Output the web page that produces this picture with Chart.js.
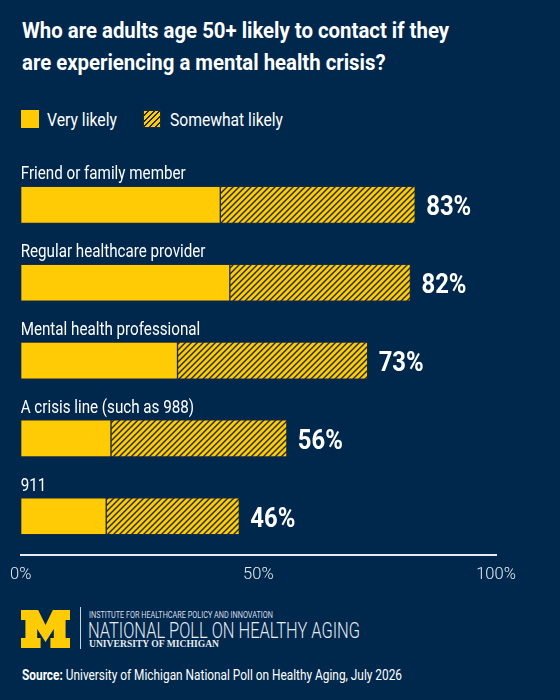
<!DOCTYPE html>
<html>
<head>
<meta charset="utf-8">
<script src="https://cdn.jsdelivr.net/npm/chart.js@4"></script>
<style>
  html, body { margin: 0; padding: 0; }
  body {
    width: 560px; height: 700px; background: #00274C; position: relative; overflow: hidden;
    font-family: Roboto, "Noto Sans", sans-serif; color: #fff;
  }
  .t { position: absolute; white-space: nowrap; transform-origin: left center; }
  .title { left: 22px; font-weight: bold; font-size: 22.5px; line-height: 22.5px; }
  .leg { font-size: 19px; line-height: 19px; top: 110px; }
  .sw { position: absolute; width: 18px; height: 18px; top: 110px; box-sizing: border-box; }
  .solid { background: #FFCB05; }
  .hatch {
    background: repeating-linear-gradient(135deg, #FFCB05 0 2.6px, #1c2b3c 2.6px 4px);
    border: 1px solid #1c2b3c;
  }
  #wrap { position: absolute; left: 0; top: 150px; width: 560px; height: 451px; }
  #logo { position: absolute; left: 21px; top: 610px; }
  #divider { position: absolute; left: 80px; top: 607px; width: 1px; height: 42px; background: #cfd6df; }
  #l1 { left: 89px; top: 610.5px; font-size: 8.5px; line-height: 8.5px; color: #d8dee6; }
  #l2 { left: 88px; top: 619px; font-size: 22.5px; line-height: 22.5px; color: #e6ebf1; font-weight: 300; }
  #l3 { left: 89px; top: 638.5px; font-family: "Liberation Serif", "DejaVu Serif", serif; font-weight: bold; font-size: 10.6px; line-height: 10.6px; color: #e6ebf1; }
  #source { left: 22px; top: 667.5px; font-size: 14px; line-height: 14px; color: #fff; }
</style>
</head>
<body>
<div class="t title" id="t1" style="top:19px" data-w="427">Who are adults age 50+ likely to contact if they</div>
<div class="t title" id="t2" style="top:50.5px" data-k="t1">are experiencing a mental health crisis?</div>
<span class="sw solid" style="left:21px"></span>
<div class="t leg" style="left:46.5px" data-w="70">Very likely</div>
<span class="sw hatch" style="left:143px"></span>
<div class="t leg" style="left:170px" data-w="113">Somewhat likely</div>
<div id="wrap"><canvas id="myChart"></canvas></div>
<svg id="logo" width="49" height="38" viewBox="0 0 100 76" preserveAspectRatio="none">
  <polygon fill="#FFCB05" points="0,0 35,0 50,30 65,0 100,0 100,20 91,20 91,56 100,56 100,76 60,76 60,56 67,56 67,38 50,64 33,38 33,56 40,56 40,76 0,76 0,56 9,56 9,20 0,20"/>
</svg>
<div id="divider"></div>
<div class="t" id="l1" data-w="184">INSTITUTE FOR HEALTHCARE POLICY AND INNOVATION</div>
<div class="t" id="l2" data-w="272">NATIONAL POLL ON HEALTHY AGING</div>
<div class="t" id="l3" data-w="130">UNIVERSITY OF MICHIGAN</div>
<div class="t" id="source" data-w="380"><b>Source:</b> University of Michigan National Poll on Healthy Aging, July 2026</div>

<script>
const categories = ["Friend or family member", "Regular healthcare provider", "Mental health professional", "A crisis line (such as 988)", "911"];
const veryLikely = [42, 44, 33, 19, 18];
const somewhatLikely = [41, 38, 40, 37, 28];
const totals = [83, 82, 73, 56, 46];
const xTicks = [0, 50, 100];

const maize = "#FFCB05";
const lineDark = "#1c2b3c";
const fontFamily = 'Roboto, "Noto Sans", sans-serif';

// squeeze text to the condensed widths of the original
function fitText() {
    const scales = {};
    document.querySelectorAll("[data-w]").forEach(el => {
        const k = Number(el.dataset.w) / el.getBoundingClientRect().width;
        scales[el.id] = k;
        el.style.transform = "scaleX(" + k + ")";
    });
    document.querySelectorAll("[data-k]").forEach(el => {
        el.style.transform = "scaleX(" + scales[el.dataset.k] + ")";
    });
}

function makeHatch() {
    const c = document.createElement("canvas");
    c.width = 6; c.height = 6;
    const g = c.getContext("2d");
    g.fillStyle = maize;
    g.fillRect(0, 0, 6, 6);
    g.strokeStyle = lineDark;
    g.lineWidth = 1.4;
    g.beginPath();
    g.moveTo(-1, 7); g.lineTo(7, -1);
    g.moveTo(-4, 4); g.lineTo(4, -4);
    g.moveTo(2, 10); g.lineTo(10, 2);
    g.stroke();
    return g.createPattern(c, "repeat");
}

function squeezedText(ctx, text, x, y, k) {
    ctx.save();
    ctx.translate(x, y);
    ctx.scale(k, 1);
    ctx.fillText(text, 0, 0);
    ctx.restore();
}

const barLabels = {
    id: "barLabels",
    afterDatasetsDraw(chart) {
        const ctx = chart.ctx;
        const first = chart.getDatasetMeta(0).data;
        const last = chart.getDatasetMeta(1).data;
        ctx.save();
        ctx.fillStyle = "#ffffff";
        ctx.textAlign = "left";
        ctx.textBaseline = "alphabetic";

        ctx.font = "18.5px " + fontFamily;
        const kName = 165 / ctx.measureText(categories[0]).width;
        ctx.font = "bold 27px " + fontFamily;
        const kVal = 45 / ctx.measureText(totals[0] + "%").width;

        categories.forEach((name, i) => {
            const bar = first[i];
            const top = bar.y - bar.height / 2;
            ctx.font = "18.5px " + fontFamily;
            squeezedText(ctx, name, chart.chartArea.left, top - 7, kName);
            ctx.font = "bold 27px " + fontFamily;
            squeezedText(ctx, totals[i] + "%", last[i].x + 11, bar.y + 10.5, kVal);
        });
        ctx.restore();
    }
};

let chartInstance = null;
function renderChart() {
    const ctx = document.getElementById("myChart").getContext("2d");
    if (chartInstance !== null) {
        chartInstance.destroy();
    }
    chartInstance = new Chart(ctx, {
        type: "bar",
        data: {
            labels: categories,
            datasets: [
                {
                    label: "Very likely",
                    data: veryLikely,
                    backgroundColor: maize,
                    borderColor: lineDark,
                    borderWidth: 1,
                    borderSkipped: false,
                    barThickness: 37
                },
                {
                    label: "Somewhat likely",
                    data: somewhatLikely,
                    backgroundColor: makeHatch(),
                    borderColor: lineDark,
                    borderWidth: 1,
                    borderSkipped: false,
                    barThickness: 37
                }
            ]
        },
        options: {
            indexAxis: "y",
            responsive: true,
            maintainAspectRatio: false,
            animation: false,
            layout: { padding: { left: 11, right: 64, top: 16, bottom: 6 } },
            plugins: {
                legend: { display: false },
                tooltip: { enabled: false },
                title: { display: false }
            },
            scales: {
                x: {
                    stacked: true,
                    min: 0,
                    max: 100,
                    afterBuildTicks: scale => { scale.ticks = xTicks.map(v => ({ value: v })); },
                    grid: { display: false, drawTicks: false },
                    border: { display: true, color: "#e6ebf1", width: 2 },
                    ticks: {
                        color: "#e6ebf1",
                        padding: 10,
                        maxRotation: 0,
                        font: { family: fontFamily, size: 16.5, weight: "300" },
                        callback: v => v + "%"
                    }
                },
                y: {
                    stacked: true,
                    display: false
                }
            }
        },
        plugins: [barLabels]
    });
}

document.fonts.ready.then(() => {
    fitText();
    renderChart();
});
</script>
</body>
</html>
